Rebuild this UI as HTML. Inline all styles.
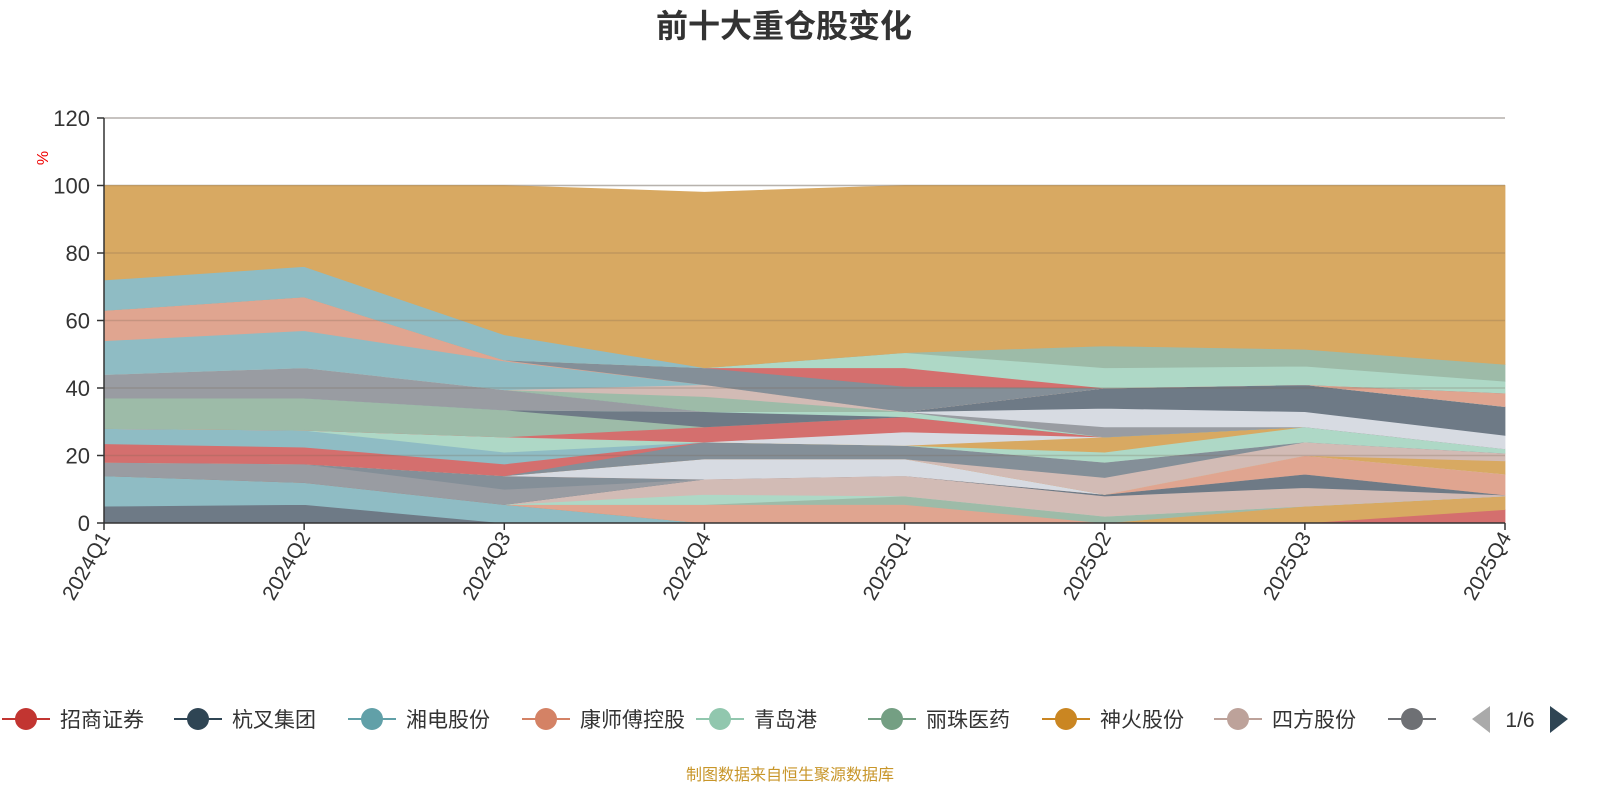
<!DOCTYPE html>
<html><head><meta charset="utf-8"><style>
body{margin:0;background:#fff;font-family:"Liberation Sans","Noto Sans CJK SC",sans-serif;}
svg{display:block}
</style></head><body>
<svg id="c" width="1600" height="800"></svg>
<script>
const categories=["2024Q1","2024Q2","2024Q3","2024Q4","2025Q1","2025Q2","2025Q3","2025Q4"];
const yTicks=[0,20,40,60,80,100,120];
const legendNames=["招商证券","杭叉集团","湘电股份","康师傅控股","青岛港","丽珠医药","神火股份","四方股份","航"];
const legendColors=["#c23531","#2f4554","#61a0a8","#d48265","#91c7ae","#749f83","#ca8622","#bda29a","#6e7074"];
const seriesColors=["#6e7a86","#8fbcc4","#d46f6e","#d8a962","#e0a590","#9dbba8","#aed8c6","#d2bbb5","#6e7a86","#999ca2","#848f98","#e0a590","#d7dbe2","#d8a962","#d2bbb5","#848f98","#d46f6e","#8fbcc4","#aed8c6","#d8a962","#d7dbe2","#d46f6e","#9dbba8","#6e7a86","#aed8c6","#999ca2","#d7dbe2","#6e7a86","#9dbba8","#d2bbb5","#8fbcc4","#e0a590","#848f98","#d46f6e","#aed8c6","#9dbba8","#8fbcc4","#d8a962"];
const s01=[5,5.5,0,0,0,0,0,0];
const s02=[9,6.5,5.5,0,0,0,0,0];
const s03=[0,0,0,0,0,0,0,4];
const s04=[0,0,0,0,0,0,5,4];
const s05=[0,0,0,5.5,5.5,0,0,0];
const s06=[0,0,0,0,2.5,2,0,0];
const s07=[0,0,0,3,0,0,0,0];
const s08=[0,0,0,4.5,6,6,5.5,0.3];
const s09=[0,0,0,0,0,0.5,4,0];
const s10=[4,5.5,4.5,0,0,0,0,0];
const s11=[0,0,4,0,0,0,0,0];
const s12=[0,0,0,0,0,0,5.5,6.2];
const s13=[0,0,0,6,5,0,0,0];
const s14=[0,0,0,0,0,0,0,3.9];
const s15=[0,0,0,0,0,5,4,2.3];
const s16=[0,0,0,5,4,4.5,0,0];
const s17=[5.5,5,3.5,0,0,0,0,0];
const s18=[4.5,5,3.5,0,0,0,0,0];
const s19=[0,0,4.5,0,0,3,4.5,1.3];
const s20=[0,0,0,0,0,4.5,0,0];
const s21=[0,0,0,0,4,0,0,0];
const s22=[0,0,0,4.5,4.5,0,0,0];
const s23=[9,9.5,8,0,0,0,0,0];
const s24=[0,0,0,4.5,0,0,0,0];
const s25=[0,0,0,0,1.5,0,0,0];
const s26=[7,9,6,0,0,3,0,0];
const s27=[0,0,0,0,0,5.5,4.5,4];
const s28=[0,0,0,0,0,6,8,8.5];
const s29=[0,0,0,4.5,0,0,0,0];
const s30=[0,0,0,3.5,0,0,0,0];
const s31=[10,11,8.5,0,0,0,0,0];
const s32=[9,10,0.3,0,0,0,0,4];
const s33=[0,0,0,5,7.5,0,0,0];
const s34=[0,0,0,0,5.5,0,0,0];
const s35=[0,0,0,0,4.5,6,5.5,3.5];
const s36=[0,0,0,0,0,6.5,5,5];
const s37=[9,9,7.5,0,0,0,0,0];
const s38=[28,24,44.2,52,49.5,47.5,48.5,53];
const seriesValues=[s01,s02,s03,s04,s05,s06,s07,s08,s09,s10,s11,s12,s13,s14,s15,s16,s17,s18,s19,s20,s21,s22,s23,s24,s25,s26,s27,s28,s29,s30,s31,s32,s33,s34,s35,s36,s37,s38];

const NS="http://www.w3.org/2000/svg";
const svg=document.getElementById('c');
const L=104,R=1505,T=118,B=523,YMAX=120;
const x=i=>L+(R-L)*i/(categories.length-1);
const y=v=>B-(B-T)*v/YMAX;
function mk(tag,attrs,parent){const e=document.createElementNS(NS,tag);for(const k in attrs)e.setAttribute(k,attrs[k]);(parent||svg).appendChild(e);return e;}

// title
let t=mk('text',{x:784,y:37,'text-anchor':'middle','font-size':32,'font-weight':'bold',fill:'#333'});
t.textContent='前十大重仓股变化';



// grid
yTicks.forEach(v=>{
  if(v>0){const g=mk('line',{x1:L,x2:R,y1:y(v),y2:y(v),stroke:'#ccc','stroke-width':1.5});
  
  }
});

// areas
const areas=mk('g',{});


let base=categories.map(()=>0);
seriesValues.forEach((vals,si)=>{
  const top=base.map((b,i)=>b+vals[i]);
  let d='M'+top.map((v,i)=>x(i)+','+y(v)).join(' L');
  for(let i=categories.length-1;i>=0;i--)d+=' L'+x(i)+','+y(base[i]);
  d+='Z';
  const p=mk('path',{d:d,fill:seriesColors[si],stroke:seriesColors[si],'stroke-width':0.8},areas);
  
  
  base=top;
});
// grid overlay faint
yTicks.forEach(v=>{
  if(v>0){const g=mk('line',{x1:L,x2:R,y1:y(v),y2:y(v),stroke:'rgba(120,100,80,0.25)','stroke-width':1.5});
  
  }
});

// axes
let ax=mk('line',{x1:L,x2:L,y1:T,y2:B,stroke:'#333','stroke-width':1.5});


let bx=mk('line',{x1:L,x2:R,y1:B,y2:B,stroke:'#333','stroke-width':1.5});


yTicks.forEach(v=>{
  const tk=mk('line',{x1:L-7,x2:L,y1:y(v),y2:y(v),stroke:'#333','stroke-width':1.5});
  
  
  const tl=mk('text',{x:L-14,y:y(v)+8,'text-anchor':'end','font-size':22,fill:'#333'});
  tl.textContent=v;
  
  
});
let u=mk('text',{x:0,y:0,'font-size':16,fill:'#e00','text-anchor':'middle',transform:'translate(48,158) rotate(-90)'});
u.textContent='%';


categories.forEach((c,i)=>{
  const tk=mk('line',{x1:x(i),x2:x(i),y1:B,y2:B+7,stroke:'#333','stroke-width':1.5});
  
  
  const tl=mk('text',{x:0,y:0,'text-anchor':'end','font-size':21,fill:'#333',transform:`translate(${x(i)+7},${B+14}) rotate(-60)`});
  tl.textContent=c;
  
  
});

// legend
const lg=mk('g',{});


const lx=[2,174,348,522,696,868,1042,1214,1388];
legendNames.forEach((n,i)=>{
  const g=mk('g',{},lg);
  
  
  const x0=lx[i];
  mk('line',{x1:x0,x2:x0+48,y1:719,y2:719,stroke:legendColors[i],'stroke-width':2},g);
  mk('circle',{cx:x0+24,cy:719,r:11,fill:legendColors[i]},g);
  const tt=mk('text',{x:x0+58,y:727,'font-size':21,fill:'#333'},g);
  tt.textContent=n;
});
let wc=mk('rect',{x:1440,y:700,width:30,height:40,fill:'#fff'});


let pv=mk('path',{d:'M1490,706 L1472,719 L1490,733Z',fill:'#aaa'});


let pg=mk('text',{x:1520,y:727,'text-anchor':'middle','font-size':21,fill:'#333'});
pg.textContent='1/6';


let nx=mk('path',{d:'M1550,706 L1568,719 L1550,733Z',fill:'#2f4554'});



let src=mk('text',{x:790,y:780,'text-anchor':'middle','font-size':16,fill:'#c8962a'});
src.textContent='制图数据来自恒生聚源数据库';


</script>
</body></html>
